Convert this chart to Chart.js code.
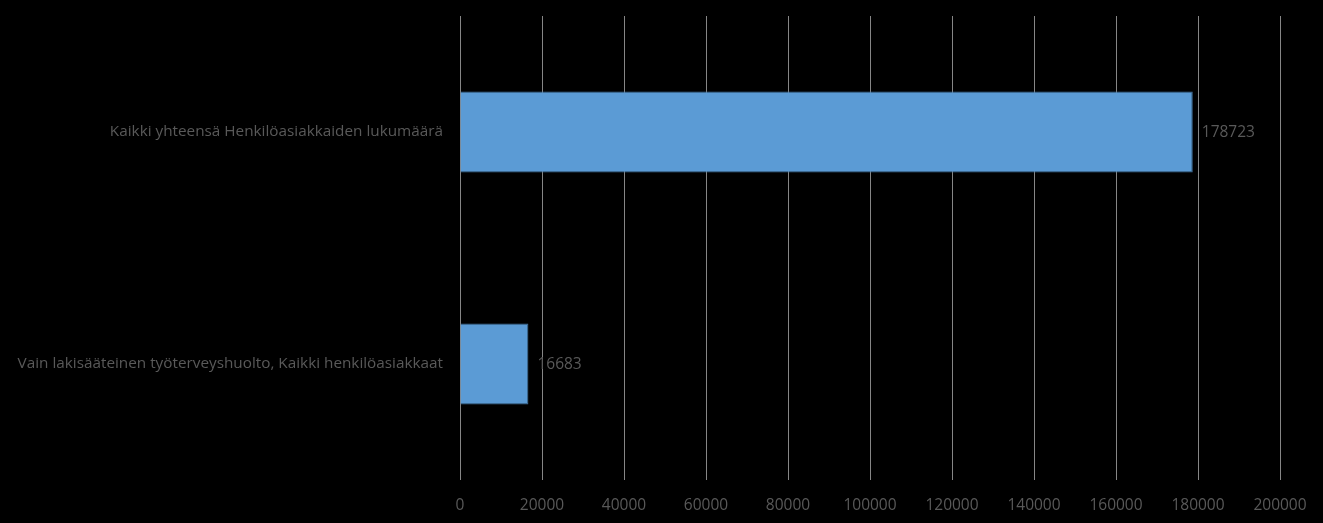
<!DOCTYPE html>
<html>
<head>
<meta charset="utf-8">
<script src="https://cdn.jsdelivr.net/npm/chart.js@4"></script>
<style>
  html, body { margin: 0; padding: 0; background: #000; }
  #wrap { width: 1323px; height: 523px; }
</style>
</head>
<body>
<div id="wrap"><canvas id="chart" width="1323" height="523"></canvas></div>
<script>
const categories = [
  'Kaikki yhteensä Henkilöasiakkaiden lukumäärä',
  'Vain lakisääteinen työterveyshuolto, Kaikki henkilöasiakkaat'
];
const values = [178723, 16683];
const axisMin = 0;
const axisMax = 200000;
const axisStep = 20000;

const textColor = '#595959';
const fontFamily = '"Open Sans", sans-serif';

// value labels at the bar ends
const valueLabels = {
  id: 'valueLabels',
  afterDatasetsDraw(chart) {
    const { ctx } = chart;
    const meta = chart.getDatasetMeta(0);
    ctx.save();
    ctx.font = '15.5px ' + fontFamily;
    ctx.fillStyle = textColor;
    ctx.textAlign = 'left';
    ctx.textBaseline = 'middle';
    meta.data.forEach((bar, i) => {
      ctx.fillText(String(values[i]), bar.x + 9, bar.y + 1);
    });
    ctx.restore();
  }
};

let chart = new Chart(document.getElementById('chart'), {
  type: 'bar',
  data: {
    labels: categories,
    datasets: [{
      data: values,
      backgroundColor: '#5B9BD5',
      borderColor: '#41719C',
      borderWidth: 1,
      barPercentage: 0.35,
      categoryPercentage: 1
    }]
  },
  options: {
    indexAxis: 'y',
    responsive: false,
    animation: false,
    layout: { padding: { top: 16, right: 43, left: 0, bottom: 0 } },
    plugins: {
      legend: { display: false },
      tooltip: { enabled: false }
    },
    scales: {
      x: {
        min: axisMin,
        max: axisMax,
        border: { display: false },
        grid: { color: '#868686', lineWidth: 1, drawTicks: false },
        ticks: {
          stepSize: axisStep,
          color: textColor,
          padding: 16,
          maxRotation: 0,
          font: { size: 15.5, family: fontFamily },
          callback: (v) => String(v)
        },
        afterFit(scale) {
          scale.height = 43;
          scale.paddingTop = 0;
          scale.paddingBottom = 0;
          scale.paddingLeft = 0;
          scale.paddingRight = 0;
        }
      },
      y: {
        border: { display: false },
        grid: { display: false, drawTicks: false },
        ticks: {
          color: textColor,
          padding: 17,
          font: { size: 15.3, family: fontFamily }
        },
        afterFit(scale) {
          scale.width = 460;
          scale.paddingTop = 0;
          scale.paddingBottom = 0;
        }
      }
    }
  },
  plugins: [valueLabels]
});
</script>
</body>
</html>
